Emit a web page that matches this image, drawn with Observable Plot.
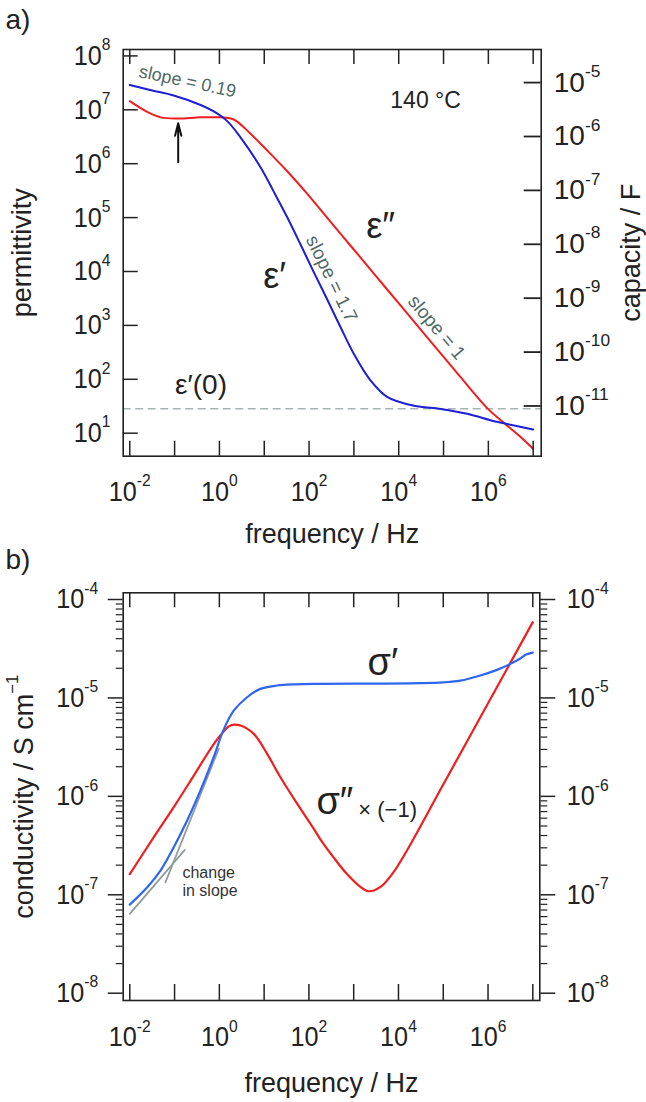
<!DOCTYPE html>
<html><head><meta charset="utf-8">
<script src="https://cdn.jsdelivr.net/npm/d3@7"></script>
<script src="https://cdn.jsdelivr.net/npm/@observablehq/plot@0.6"></script>
<style>
body{margin:0;background:#fff;}
#wrap{width:646px;}
#wrap svg{display:block;}
</style></head><body><div id="wrap"></div>
<script>
// ---------- values (log10 units) ----------
const xDecades = [-2,-1,0,1,2,3,4,5,6,7];
const xLabelDecades = [-2,0,2,4,6];
const permDecades = [1,2,3,4,5,6,7,8];
const capDecades = [-11,-10,-9,-8,-7,-6,-5];
const logC0 = -12.505;            // capacity = permittivity * C0
const condDecades = [-8,-7,-6,-5,-4];
const minorMantissas = [2,3,4,5,6,7,8,9];

// panel a : permittivity
const epsRealLogF = [-2.0,-1.5,-1.02,-0.42,-0.125,0.174,0.47,0.92,1.2,1.51,1.81,2.11,2.40,2.70,3.0,3.37,3.75,4.34,4.94,5.53,6.13,6.42,7.0];
const epsRealLogV = [7.46,7.36,7.265,7.09,6.97,6.79,6.49,5.93,5.50,5.01,4.50,3.98,3.49,2.97,2.47,1.98,1.67,1.51,1.45,1.36,1.22,1.17,1.07];
const epsImagLogF = [-2.0,-1.61,-1.31,-0.94,-0.42,0.025,0.32,0.694,1.067,1.513,1.96,2.406,2.926,3.446,4.04,4.49,4.94,5.38,5.98,6.35,6.72,7.0];
const epsImagLogV = [7.16,6.96,6.86,6.84,6.86,6.86,6.82,6.555,6.245,5.86,5.44,4.995,4.478,3.961,3.37,2.923,2.476,2.04,1.46,1.19,0.93,0.71];
const epsStaticLog = 1.453;
const arrowLogF = -0.92, arrowLogFrom = 6.028, arrowLogTo = 6.751;

// panel b : conductivity
const sigRealLogF = [-2.0,-1.61,-1.315,-1.018,-0.719,-0.422,-0.125,0.098,0.321,0.62,0.918,1.29,1.66,2.26,3.3,4.49,5.0,5.38,5.83,6.20,6.50,6.72,6.85,7.0];
const sigRealLogV = [-7.10,-6.924,-6.754,-6.517,-6.246,-5.94,-5.60,-5.32,-5.13,-4.993,-4.908,-4.874,-4.862,-4.857,-4.855,-4.85,-4.842,-4.825,-4.772,-4.715,-4.654,-4.60,-4.56,-4.54];
const sigImagLogF = [-2.0,-1.464,-1.018,-0.571,-0.199,0.025,0.248,0.471,0.768,1.067,1.364,1.66,2.11,2.26,2.55,2.85,3.15,3.33,3.60,3.89,4.19,5.0,6.0,7.0];
const sigImagLogV = [-6.79,-6.415,-6.11,-5.789,-5.52,-5.38,-5.28,-5.28,-5.365,-5.568,-5.806,-6.02,-6.33,-6.44,-6.62,-6.79,-6.92,-6.964,-6.92,-6.77,-6.55,-5.88,-5.055,-4.23];
const tangent1LogF = [-1.203,-0.013], tangent1LogV = [-6.873,-5.517];
const tangent2LogF = [-2.0,-0.772],  tangent2LogV = [-7.194,-6.544];

// annotation anchors (data coordinates, log10)
const notesA = [
  {t:"slope = 0.19", lf:-0.712, lv:7.525},
  {t:"140 °C",       lf:4.60,   lv:7.17},
  {t:"ε″",           lf:3.596,  lv:4.83},
  {t:"ε′",           lf:1.23,   lv:3.916},
  {t:"slope = 1.7",  lf:2.502,  lv:3.866},
  {t:"slope = 1",    lf:4.846,  lv:2.96},
  {t:"ε′(0)",        lf:-0.411, lv:1.885}
];
const notesB = [
  {t:"σ′",               lf:3.652,  lv:-4.648},
  {t:"σ″",               lf:2.167,  lv:-6.051},
  {t:"× (−1)",           lf:3.103,  lv:-6.141},
  {t:"change\nin slope", lf:-0.824, lv:-6.866}
];

// ---------- helpers ----------
const P = v => 10 ** v;
const toRows = (F, V) => F.map((f, i) => ({f: P(f), v: P(V[i])}));
const FONT = "'Liberation Sans', Arial, Helvetica, sans-serif";
const ink = "#222", blueA = "#1e1ed2", blueB = "#2f66f0", red = "#f01e1e",
      slate = "#506868", dashCol = "#a8b4b4", tanCol = "#8f9c9c";
const expLabel = d => "10^" + Math.round(Math.log10(d));
const note = (arr, t) => { const n = arr.find(d => d.t === t); return [{f: P(n.lf), v: P(n.lv), t: n.t}]; };

function finish(svg) {
  const ns = svg.namespaceURI;
  svg.querySelectorAll("text").forEach(t => {
    const s = t.textContent, k = s.indexOf("^");
    if (k < 0 || t.children.length) return;
    t.textContent = "";
    const a = document.createElementNS(ns, "tspan"); a.textContent = s.slice(0, k);
    const b = document.createElementNS(ns, "tspan"); b.textContent = s.slice(k + 1);
    b.setAttribute("font-size", "0.62em"); b.setAttribute("dy", "-0.85em");
    t.append(a, b);
  });
  svg.querySelectorAll('g[aria-label$="tick label"] text').forEach(t => {
    t.setAttribute("transform", (t.getAttribute("transform") || "") + " scale(0.9,1)");
  });
  return svg;
}

const xTicks = xDecades.map(P);
const xLabTicks = xLabelDecades.map(P);

// ---------- panel a ----------
const A = {w:646, h:560, ml:122.7, mr:105.3, mt:49, mb:104.3};
const fwA = A.w - A.ml - A.mr, fhA = A.h - A.mt - A.mb;
const permTicks = permDecades.map(P);
const capTicksAsPerm = capDecades.map(c => P(c - logC0));

const plotA = Plot.plot({
  width: A.w, height: A.h,
  marginLeft: A.ml, marginRight: A.mr, marginTop: A.mt, marginBottom: A.mb,
  style: {fontFamily: FONT, color: ink, background: "#fff", overflow: "visible"},
  x: {type: "log", domain: [P(-2.147), P(7.179)], label: null},
  y: {type: "log", domain: [P(0.573), P(8.119)], label: null},
  marks: [
    Plot.ruleY([P(epsStaticLog)], {stroke: dashCol, strokeWidth: 1.6, strokeDasharray: "8,4.5"}),
    Plot.line(toRows(epsImagLogF, epsImagLogV), {x: "f", y: "v", stroke: red, strokeWidth: 2, curve: "catmull-rom"}),
    Plot.line(toRows(epsRealLogF, epsRealLogV), {x: "f", y: "v", stroke: blueA, strokeWidth: 2, curve: "catmull-rom"}),
    Plot.arrow([{f: P(arrowLogF), a: P(arrowLogFrom), b: P(arrowLogTo)}],
      {x1: "f", x2: "f", y1: "a", y2: "b", stroke: "#111", strokeWidth: 2, headLength: 10, headAngle: 28}),
    Plot.frame({stroke: ink, strokeWidth: 1.6}),
    Plot.tickX(xTicks, {x: d => d, insetBottom: fhA - 15, stroke: ink, strokeWidth: 1.5}),
    Plot.tickX(xTicks, {x: d => d, insetTop: fhA - 15, stroke: ink, strokeWidth: 1.5}),
    Plot.tickY(permTicks, {y: d => d, insetRight: fwA - 15, stroke: ink, strokeWidth: 1.5}),
    Plot.tickY(capTicksAsPerm, {y: d => d, insetLeft: fwA - 17, stroke: ink, strokeWidth: 1.8}),
    Plot.axisX({anchor: "bottom", ticks: xLabTicks, tickSize: 0, tickPadding: 25, tickFormat: expLabel, fontSize: 28, label: null}),
    Plot.axisY({anchor: "left", ticks: permTicks, tickSize: 0, tickPadding: 12.7, tickFormat: expLabel, fontSize: 28, label: null}),
    Plot.text(capTicksAsPerm, {y: d => d, text: d => "10^" + Math.round(Math.log10(d) + logC0),
      frameAnchor: "right", textAnchor: "start", lineAnchor: "middle", dx: 12.6, fontSize: 28, ariaLabel: "capacity tick label"}),
    Plot.text(["frequency / Hz"], {text: d => d, frameAnchor: "bottom", lineAnchor: "middle", dy: 78, fontSize: 27}),
    Plot.text(["permittivity"], {text: d => d, frameAnchor: "left", textAnchor: "middle", lineAnchor: "middle", rotate: -90, dx: -101.3, fontSize: 27}),
    Plot.text(["capacity / F"], {text: d => d, frameAnchor: "right", textAnchor: "middle", lineAnchor: "middle", rotate: -90, dx: 89.7, fontSize: 27}),
    Plot.text(["a)"], {text: d => d, frameAnchor: "top-left", textAnchor: "start", lineAnchor: "middle", dx: -117.7, dy: -29, fontSize: 28}),
    Plot.text(note(notesA, "slope = 0.19"), {x: "f", y: "v", text: "t", rotate: 12, fontSize: 18, fill: slate}),
    Plot.text(note(notesA, "140 °C"), {x: "f", y: "v", text: "t", fontSize: 23}),
    Plot.text(note(notesA, "ε″"), {x: "f", y: "v", text: "t", fontSize: 36}),
    Plot.text(note(notesA, "ε′"), {x: "f", y: "v", text: "t", fontSize: 36}),
    Plot.text(note(notesA, "slope = 1.7"), {x: "f", y: "v", text: "t", rotate: 64, fontSize: 19, fill: slate}),
    Plot.text(note(notesA, "slope = 1"), {x: "f", y: "v", text: "t", rotate: 50, fontSize: 19, fill: slate}),
    Plot.text(note(notesA, "ε′(0)"), {x: "f", y: "v", text: "t", fontSize: 28})
  ]
});

// ---------- panel b ----------
const B = {w:646, h:542, ml:122.7, mr:106.7, mt:32.3, mb:102};
const fwB = B.w - B.ml - B.mr, fhB = B.h - B.mt - B.mb;
const condTicks = condDecades.map(P);
const condMinor = condDecades.slice(0, -1).flatMap(k => minorMantissas.map(m => m * P(k)));

const plotB = Plot.plot({
  width: B.w, height: B.h,
  marginLeft: B.ml, marginRight: B.mr, marginTop: B.mt, marginBottom: B.mb,
  style: {fontFamily: FONT, color: ink, background: "#fff", overflow: "visible"},
  x: {type: "log", domain: [P(-2.147), P(7.156)], label: null},
  y: {type: "log", domain: [P(-8.074), P(-3.932)], label: null},
  marks: [
    Plot.line(toRows(tangent1LogF, tangent1LogV), {x: "f", y: "v", stroke: tanCol, strokeWidth: 1.8}),
    Plot.line(toRows(tangent2LogF, tangent2LogV), {x: "f", y: "v", stroke: tanCol, strokeWidth: 1.8}),
    Plot.line(toRows(sigImagLogF, sigImagLogV), {x: "f", y: "v", stroke: red, strokeWidth: 2.2, curve: "catmull-rom"}),
    Plot.line(toRows(sigRealLogF, sigRealLogV), {x: "f", y: "v", stroke: blueB, strokeWidth: 2.2, curve: "catmull-rom"}),
    Plot.frame({stroke: ink, strokeWidth: 1.6}),
    Plot.tickX(xTicks, {x: d => d, insetBottom: fhB - 15, stroke: ink, strokeWidth: 1.5}),
    Plot.tickX(xTicks, {x: d => d, insetTop: fhB - 16, stroke: ink, strokeWidth: 1.5}),
    Plot.axisY({anchor: "left", ticks: condMinor, tickSize: 7, tickFormat: () => "", label: null, strokeWidth: 1.2}),
    Plot.axisY({anchor: "right", ticks: condMinor, tickSize: 7, tickFormat: () => "", label: null, strokeWidth: 1.2}),
    Plot.axisY({anchor: "left", ticks: condTicks, tickSize: 15, tickPadding: 10, tickFormat: expLabel, fontSize: 28, label: null, strokeWidth: 1.5}),
    Plot.axisY({anchor: "right", ticks: condTicks, tickSize: 15, tickPadding: 12, tickFormat: expLabel, fontSize: 28, label: null, strokeWidth: 1.5}),
    Plot.axisX({anchor: "bottom", ticks: xLabTicks, tickSize: 0, tickPadding: 26, tickFormat: expLabel, fontSize: 28, label: null}),
    Plot.text(["frequency / Hz"], {text: d => d, frameAnchor: "bottom", lineAnchor: "middle", dy: 83, fontSize: 27}),
    Plot.text(["conductivity / S cm^−1"], {text: d => d, frameAnchor: "left", textAnchor: "middle", lineAnchor: "middle", rotate: -90, dx: -99.3, fontSize: 27}),
    Plot.text(["b)"], {text: d => d, frameAnchor: "top-left", textAnchor: "start", lineAnchor: "middle", dx: -117.7, dy: -33, fontSize: 28}),
    Plot.text(note(notesB, "σ′"), {x: "f", y: "v", text: "t", fontSize: 38}),
    Plot.text(note(notesB, "σ″"), {x: "f", y: "v", text: "t", textAnchor: "start", fontSize: 38}),
    Plot.text(note(notesB, "× (−1)"), {x: "f", y: "v", text: "t", textAnchor: "start", fontSize: 22}),
    Plot.text(note(notesB, "change\nin slope"), {x: "f", y: "v", text: "t", textAnchor: "start", fontSize: 16, lineHeight: 1.12, fill: "#333"})
  ]
});

const wrap = document.getElementById("wrap");
wrap.append(finish(plotA), finish(plotB));
</script></body></html>
